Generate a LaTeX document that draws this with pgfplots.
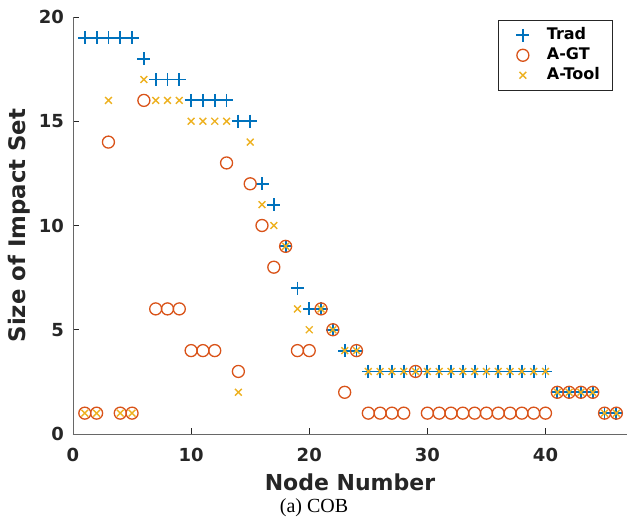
\documentclass[border=0pt]{standalone}
\usepackage{pgfplots}
\pgfplotsset{compat=1.18}
\usepackage{fontspec}
\setmainfont{Liberation Serif}
\setsansfont{DejaVu Sans}
\definecolor{mblue}{rgb}{0,0.447,0.741}
\definecolor{morange}{rgb}{0.85,0.325,0.098}
\definecolor{myellow}{rgb}{0.929,0.694,0.125}
\definecolor{axgray}{rgb}{0.15,0.15,0.15}
\begin{document}
\begin{tikzpicture}
\begin{axis}[
  scale only axis,
  width=554pt, height=417pt,
  xmin=0, xmax=46.9, ymin=0, ymax=20,
  axis x line=bottom, axis y line=left,
  axis line style={-, axgray!70, line width=0.9pt},
  xtick={0,10,20,30,40}, ytick={0,5,10,15,20},
  tick align=inside, major tick length=6pt,
  tick style={axgray, line width=0.8pt},
  /pgf/number format/assume math mode=true,
  ticklabel style={font=\sffamily\bfseries\fontsize{18}{20}\selectfont, text=axgray, inner sep=0pt},
  xticklabel style={anchor=center, yshift=-21pt},
  yticklabel style={anchor=east, xshift=-9pt},
  clip=false,
  legend image code/.code={\path[draw=none, fill=none] (0pt,-6pt) rectangle (24pt,6pt);
     \draw[mark repeat=2, mark phase=2, #1] plot coordinates {(0pt,0pt)(12pt,0pt)(24pt,0pt)};},
  legend style={at={(0.975,0.993)}, anchor=north east, draw=axgray, line width=0.7pt,
    font=\sffamily\bfseries\fontsize{16}{18}\selectfont,
    inner xsep=13pt, inner ysep=7.5pt, row sep=5pt,
    nodes={inner sep=0pt, text height=12pt, text depth=3pt},
    /tikz/every odd column/.append style={column sep=12pt},
    /tikz/every even column/.append style={column sep=0pt}},
  legend cell align=left,
]
\addplot[only marks, mark=+, mark size=6.5pt, color=mblue, line width=1.8pt] coordinates {
(1,19)(2,19)(3,19)(4,19)(5,19)(6,18)(7,17)(8,17)(9,17)(10,16)(11,16)(12,16)(13,16)
(14,15)(15,15)(16,12)(17,11)(18,9)(19,7)(20,6)(21,6)(22,5)(23,4)(24,4)
(25,3)(26,3)(27,3)(28,3)(29,3)(30,3)(31,3)(32,3)(33,3)(34,3)(35,3)(36,3)(37,3)(38,3)(39,3)(40,3)
(41,2)(42,2)(43,2)(44,2)(45,1)(46,1)};
\addlegendentry{Trad}
\addplot[only marks, mark=o, mark size=6pt, color=morange, line width=1.3pt] coordinates {
(1,1)(2,1)(3,14)(4,1)(5,1)(6,16)(7,6)(8,6)(9,6)(10,4)(11,4)(12,4)(13,13)
(14,3)(15,12)(16,10)(17,8)(18,9)(19,4)(20,4)(21,6)(22,5)(23,2)(24,4)
(25,1)(26,1)(27,1)(28,1)(29,3)(30,1)(31,1)(32,1)(33,1)(34,1)(35,1)(36,1)(37,1)(38,1)(39,1)(40,1)
(41,2)(42,2)(43,2)(44,2)(45,1)(46,1)};
\addlegendentry{A-GT}
\addplot[only marks, mark=x, mark size=4.8pt, color=myellow, line width=1.4pt] coordinates {
(1,1)(2,1)(3,16)(4,1)(5,1)(6,17)(7,16)(8,16)(9,16)(10,15)(11,15)(12,15)(13,15)
(14,2)(15,14)(16,11)(17,10)(18,9)(19,6)(20,5)(21,6)(22,5)(23,4)(24,4)
(25,3)(26,3)(27,3)(28,3)(29,3)(30,3)(31,3)(32,3)(33,3)(34,3)(35,3)(36,3)(37,3)(38,3)(39,3)(40,3)
(41,2)(42,2)(43,2)(44,2)(45,1)(46,1)};
\addlegendentry{A-Tool}
\end{axis}
\node[font=\sffamily\bfseries\fontsize{22}{24}\selectfont, text=axgray] at ([yshift=-48pt]current axis.south) {Node Number};
\node[font=\sffamily\bfseries\fontsize{22.8}{24}\selectfont, text=axgray, rotate=90] at ([xshift=-54pt]current axis.west) {Size of Impact Set};
\node[font=\fontsize{20}{22}\selectfont, text=black] at ([xshift=-36pt,yshift=-74pt]current axis.south) {(a) COB};
\pgfresetboundingbox
\path ([xshift=-73pt,yshift=-91pt]current axis.south west) rectangle ([yshift=17pt]current axis.north east);
\end{tikzpicture}
\end{document}
